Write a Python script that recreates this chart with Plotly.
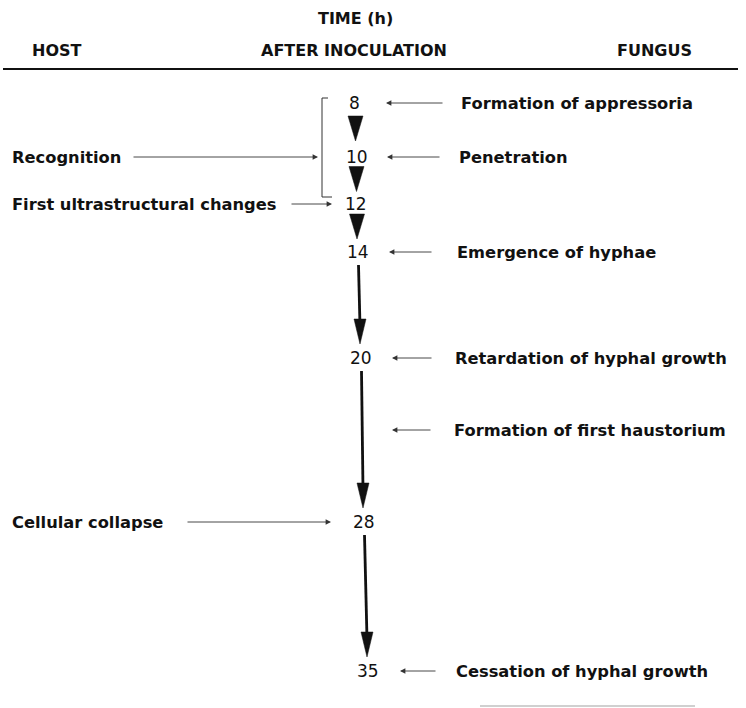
import plotly.graph_objects as go

# ---------------- data ----------------
times = [8, 10, 12, 14, 20, 28, 35]
time_labels = ["8", "10", "12", "14", "20", "28", "35"]

host_events = ["Recognition", "First ultrastructural changes", "Cellular collapse"]
host_times = [10, 12, 28]

fungus_events = ["Formation of appressoria", "Penetration", "Emergence of hyphae",
                 "Retardation of hyphal growth", "Formation of first haustorium",
                 "Cessation of hyphal growth"]
fungus_times = [8, 10, 14, 20, 24, 35]   # 24: between 20 and 28 (no label on time line)

bracket_span = [8, 12]
title_text = "TIME (h)"
headers = ["HOST", "AFTER INOCULATION", "FUNGUS"]

# ---------------- layout (pixel positions) ----------------
W, H = 746, 708
row_y = {8: 103, 10: 157, 12: 204, 14: 252, 20: 358, 24: 430, 28: 522, 35: 671}
row_x = {8: 354, 10: 357, 12: 356, 14: 358, 20: 361, 24: 362, 28: 364, 35: 368}
host_arrow = {10: (132, 318), 12: (290, 332), 28: (186, 331)}
fungus_arrow = {8: (444, 386), 10: (441, 387), 14: (433, 389), 20: (433, 392),
                24: (432, 392), 35: (437, 400)}
fungus_x = {8: 459, 10: 457, 14: 455, 20: 453, 24: 452, 35: 454}
host_x = 10

LABEL_FONT = dict(family="DejaVu Sans", size=16.3, color="#111", weight="bold")
NUM_FONT = dict(family="DejaVu Sans", size=17, color="#111")
HEAD_FONT = dict(family="DejaVu Sans", size=16, color="#111", weight="bold")

fig = go.Figure()
fig.add_trace(go.Scatter(x=[0, W], y=[0, H], mode="markers",
                         marker=dict(opacity=0), hoverinfo="skip", showlegend=False))

ann = []
shapes = []

# headers
ann.append(dict(x=355, y=18, text=title_text, font=HEAD_FONT, showarrow=False,
                xanchor="center", yanchor="middle"))
for txt, x, xa in zip(headers, [30, 354, 694], ["left", "center", "right"]):
    ann.append(dict(x=x, y=50, text=txt, font=HEAD_FONT, showarrow=False,
                    xanchor=xa, yanchor="middle"))
shapes.append(dict(type="line", x0=3, x1=738, y0=69, y1=69,
                   line=dict(color="#111", width=2)))

# time numbers
for t, lab in zip(times, time_labels):
    ann.append(dict(x=row_x[t], y=row_y[t], text=lab, font=NUM_FONT, showarrow=False,
                    xanchor="center", yanchor="middle"))

# connectors between consecutive times
for a, b in zip(times[:-1], times[1:]):
    ya, yb = row_y[a], row_y[b]
    xa, xb = row_x[a], row_x[b]
    if yb - ya < 70:
        c = (ya + yb) / 2 - 1.5
        xc = (xa + xb) / 2
        path = f"M {xc-7.5},{c-12.5} L {xc+7.5},{c-12.5} L {xc},{c+12.5} Z"
        shapes.append(dict(type="path", path=path, fillcolor="#111",
                           line=dict(color="#111", width=0.5)))
    else:
        y0, y1 = ya + 13, yb - 14
        x0, x1 = xa + 0.5, xb - 1
        shapes.append(dict(type="line", x0=x0, x1=x1, y0=y0, y1=y1 - 18,
                           line=dict(color="#111", width=2.8)))
        path = f"M {x1-6},{y1-25} L {x1+6},{y1-25} L {x1},{y1} Z"
        shapes.append(dict(type="path", path=path, fillcolor="#111",
                           line=dict(color="#111", width=0.5)))

# bracket
bx = 322
yb0 = row_y[bracket_span[0]] - 5
yb1 = row_y[bracket_span[1]] - 7
shapes.append(dict(type="path",
                   path=f"M {bx+6},{yb0} L {bx},{yb0} L {bx},{yb1} L {bx+10},{yb1}",
                   line=dict(color="#333", width=1)))

# host events
for ev, t in zip(host_events, host_times):
    y = row_y[t]
    ann.append(dict(x=host_x, y=y, text=ev, font=LABEL_FONT, showarrow=False,
                    xanchor="left", yanchor="middle"))
    x0, x1 = host_arrow[t]
    ann.append(dict(x=x1, y=y, ax=x0, ay=y, xref="x", yref="y", axref="x", ayref="y",
                    text="", showarrow=True, arrowhead=2, arrowsize=1.2,
                    arrowwidth=0.9, arrowcolor="#333"))

# fungus events
for ev, t in zip(fungus_events, fungus_times):
    y = row_y[t]
    ann.append(dict(x=fungus_x[t], y=y, text=ev, font=LABEL_FONT, showarrow=False,
                    xanchor="left", yanchor="middle"))
    x0, x1 = fungus_arrow[t]
    ann.append(dict(x=x1, y=y, ax=x0, ay=y, xref="x", yref="y", axref="x", ayref="y",
                    text="", showarrow=True, arrowhead=2, arrowsize=1.2,
                    arrowwidth=0.9, arrowcolor="#333"))

# faint bottom rule
shapes.append(dict(type="line", x0=480, x1=695, y0=706, y1=706,
                   line=dict(color="#d0d0d0", width=2)))

fig.update_layout(
    width=W, height=H, margin=dict(l=0, r=0, t=0, b=0),
    paper_bgcolor="white", plot_bgcolor="white",
    xaxis=dict(range=[0, W], visible=False, fixedrange=True),
    yaxis=dict(range=[H, 0], visible=False, fixedrange=True),
    annotations=ann, shapes=shapes, showlegend=False,
)
fig.write_html("out.html", config={"displayModeBar": False},
               post_script="document.body.style.margin='0px';document.body.style.overflow='hidden';")
